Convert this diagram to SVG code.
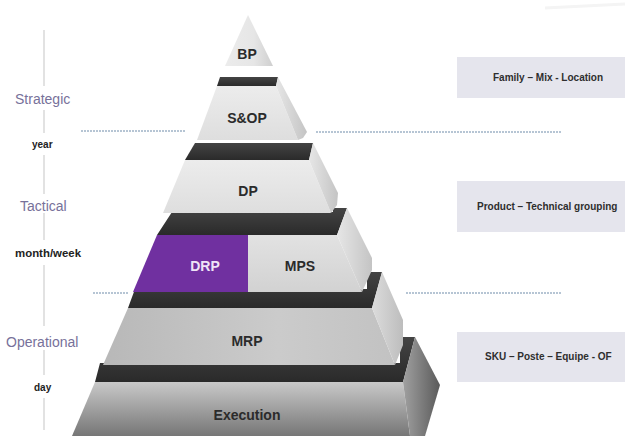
<svg xmlns="http://www.w3.org/2000/svg" width="625" height="436" viewBox="0 0 625 436">
<defs>
<style>
.band{fill:url(#gBand)}
.lbl{font-family:"Liberation Sans",Arial,sans-serif;font-weight:bold;font-size:14px;fill:#2b2b2b;text-anchor:middle}
.lvl{font-family:"Liberation Sans",Arial,sans-serif;font-size:14px;fill:#77719a}
.unit{font-family:"Liberation Sans",Arial,sans-serif;font-weight:bold;font-size:10px;fill:#222}
.box{fill:#e5e5ed}
.boxt{font-family:"Liberation Sans",Arial,sans-serif;font-weight:bold;font-size:10px;fill:#2e2e2e}
.vline{stroke:#d9d9d9;stroke-width:1.5}
.dot{stroke:#9fb2c6;stroke-width:1.5;stroke-dasharray:2 1;fill:none}
</style>
<linearGradient id="gBand" x1="0" y1="0" x2="0" y2="1"><stop offset="0" stop-color="#444"/><stop offset="1" stop-color="#2a2a2a"/></linearGradient>
<linearGradient id="gLight" x1="0" y1="0" x2="0" y2="1"><stop offset="0" stop-color="#ececec"/><stop offset="1" stop-color="#dedede"/></linearGradient>
<linearGradient id="gSideL" x1="0" y1="0" x2="1" y2="0"><stop offset="0" stop-color="#e6e6e6"/><stop offset="1" stop-color="#c4c4c4"/></linearGradient>
<linearGradient id="gMps" x1="0" y1="0" x2="0" y2="1"><stop offset="0" stop-color="#e2e2e2"/><stop offset="1" stop-color="#d2d2d2"/></linearGradient>
<linearGradient id="gMrp" x1="0" y1="0" x2="1" y2="0"><stop offset="0" stop-color="#b8b8b8"/><stop offset="0.6" stop-color="#cbcbcb"/><stop offset="1" stop-color="#c2c2c2"/></linearGradient>
<linearGradient id="gMrpS" x1="0" y1="0" x2="1" y2="0"><stop offset="0" stop-color="#dcdcdc"/><stop offset="1" stop-color="#bdbdbd"/></linearGradient>
<linearGradient id="gExe" x1="0" y1="0" x2="0" y2="1"><stop offset="0" stop-color="#c9c9c9"/><stop offset="1" stop-color="#767676"/></linearGradient>
<linearGradient id="gExeS" x1="0" y1="0" x2="1" y2="0"><stop offset="0" stop-color="#a0a0a0"/><stop offset="1" stop-color="#5a5a5a"/></linearGradient>
<linearGradient id="gBP" x1="0" y1="0" x2="1" y2="0"><stop offset="0" stop-color="#ececec"/><stop offset="0.6" stop-color="#e6e6e6"/><stop offset="1" stop-color="#cfcfcf"/></linearGradient>
</defs>
<rect width="625" height="436" fill="#ffffff"/>
<path d="M545 8 L625 4" stroke="#f4f4f4" stroke-width="3" fill="none"/>

<g id="levels">
<line class="vline" x1="44" y1="30" x2="44" y2="86"/>
<line class="vline" x1="44" y1="110" x2="44" y2="133"/>
<line class="vline" x1="44" y1="155" x2="44" y2="194"/>
<line class="vline" x1="44" y1="213" x2="44" y2="240"/>
<line class="vline" x1="44" y1="265" x2="44" y2="326"/>
<line class="vline" x1="44" y1="350" x2="44" y2="375"/>
<line class="vline" x1="44" y1="398" x2="44" y2="430"/>
<text class="lvl" x="15" y="104">Strategic</text>
<text class="unit" x="32" y="148">year</text>
<text class="lvl" x="20" y="211">Tactical</text>
<text class="unit" x="15" y="257" textLength="66" lengthAdjust="spacingAndGlyphs">month/week</text>
<text class="lvl" x="6" y="347">Operational</text>
<text class="unit" x="34" y="391">day</text>
</g>

<g id="connectors">
<line class="dot" x1="81" y1="131" x2="185" y2="131"/>
<line class="dot" x1="316" y1="132" x2="562" y2="132"/>
<line class="dot" x1="93" y1="293" x2="128" y2="293"/>
<line class="dot" x1="406" y1="293" x2="562" y2="293"/>
</g>

<g id="execution">
<polygon class="band" points="100,363 400,363 400,337 415,337 403,382 95,382"/>
<polygon fill="url(#gExe)" points="95,382 403,382 410,436 72,436"/>
<polygon fill="url(#gExeS)" points="415,337 440,385 425,436 410,436 403,382"/>
<text class="lbl" x="247" y="420">Execution</text>
</g>

<g id="mrp">
<polygon class="band" points="135,289 367,289 367,272 382,272 372,308 128,308"/>
<polygon fill="url(#gMrp)" points="128,308 372,308 395,365 103,365"/>
<polygon fill="url(#gMrpS)" points="382,272 403,320 403,345 395,365 372,308"/>
<text class="lbl" x="247" y="346">MRP</text>
</g>

<g id="mps">
<polygon class="band" points="172,212 333,212 333,208 347,208 337,235 157,235"/>
<polygon fill="url(#gMps)" points="248,235 337,235 362,292 248,292"/>
<polygon fill="url(#gSideL)" points="347,208 372,258 372,270 362,292 337,235"/>
<text class="lbl" x="300" y="271">MPS</text>
</g>

<g id="drp">
<polygon fill="#7030a0" points="157,235 248,235 248,292 133,292"/>
<text class="lbl" x="205" y="271" style="fill:#efe4f7">DRP</text>
</g>

<g id="dp">
<polygon class="band" points="195,143 313,143 309,160 185,160"/>
<polygon fill="url(#gLight)" points="185,160 309,160 331,213 163,213"/>
<polygon fill="url(#gSideL)" points="313,143 338,193 337,205 331,213 309,160"/>
<text class="lbl" x="248" y="196">DP</text>
</g>

<g id="sop">
<polygon class="band" points="220,77 278,77 276,86 217,86"/>
<polygon fill="url(#gLight)" points="217,86 276,86 298,140 197,140"/>
<polygon fill="url(#gSideL)" points="278,77 307,132 303,138 298,140 276,86"/>
<text class="lbl" x="247" y="123">S&amp;OP</text>
</g>

<g id="bp">
<polygon fill="url(#gBP)" points="248,15 273,66 225,66"/>
<text class="lbl" x="247" y="59">BP</text>
</g>

<g id="box-strategic">
<rect class="box" x="457" y="57" width="168" height="41"/>
<text class="boxt" x="493" y="81">Family – Mix - Location</text>
</g>
<g id="box-tactical">
<rect class="box" x="457" y="181" width="168" height="51"/>
<text class="boxt" x="477" y="210">Product – Technical grouping</text>
</g>
<g id="box-operational">
<rect class="box" x="457" y="332" width="168" height="50"/>
<text class="boxt" x="485" y="360">SKU – Poste – Equipe - OF</text>
</g>
</svg>
